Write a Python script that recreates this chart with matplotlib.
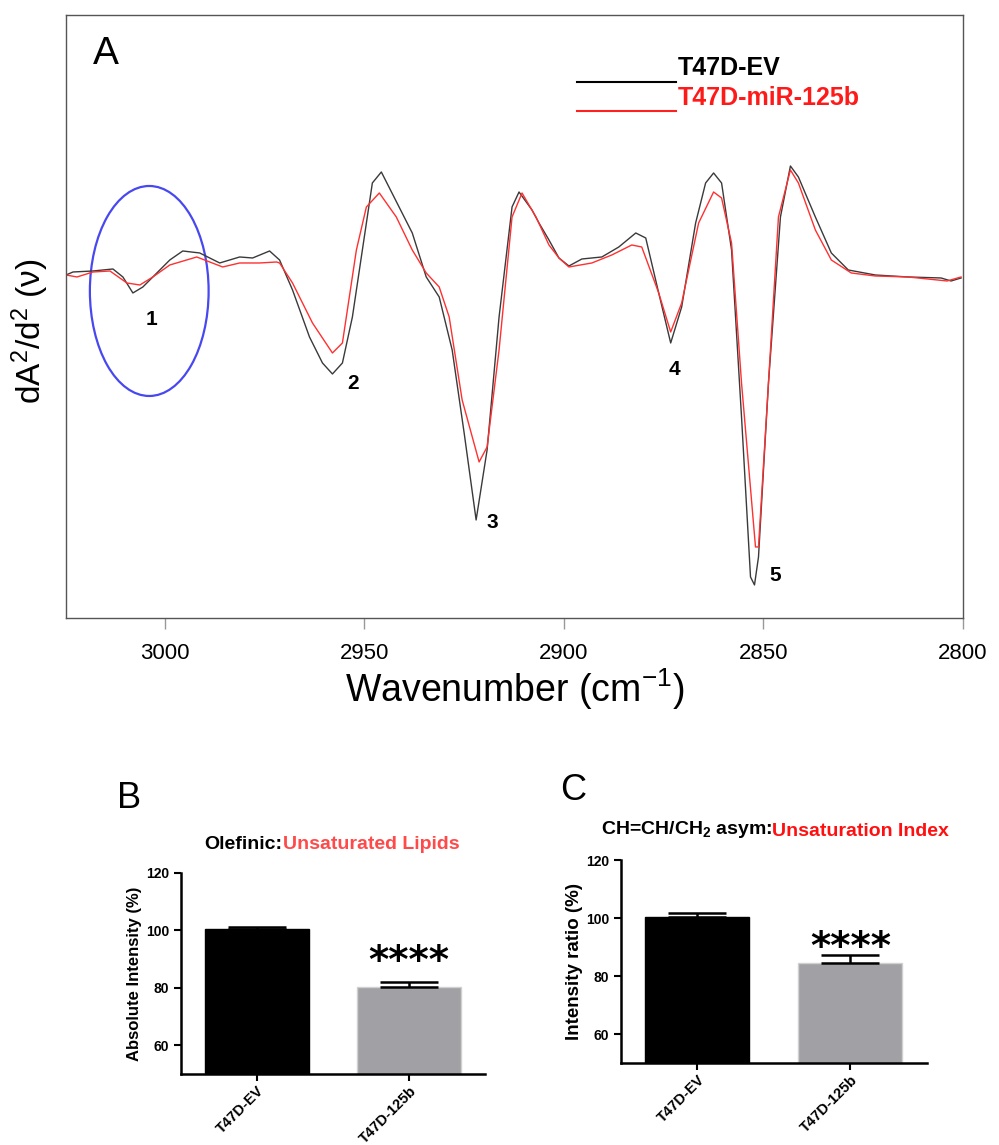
import matplotlib
matplotlib.use("Agg")
import matplotlib.pyplot as plt
from matplotlib.patches import Ellipse
from matplotlib.lines import Line2D

plt.rcParams['font.family'] = ['Liberation Sans', 'DejaVu Sans']
plt.rcParams['mathtext.fontset'] = 'custom'
plt.rcParams['mathtext.rm'] = 'Liberation Sans'
plt.rcParams['mathtext.it'] = 'Liberation Sans:italic'
plt.rcParams['mathtext.bf'] = 'Liberation Sans:bold'

W, H = 999, 1145

# --- panel A: second derivative spectra (arbitrary units) ---
wn_ev = [3024.75, 3023.0, 3018.0, 3013.0, 3010.5, 3008.0, 3005.5, 3002.0, 2998.75, 2995.5,
         2991.25, 2986.25, 2981.25, 2978.0, 2973.75, 2971.25, 2968.0, 2963.75, 2960.5, 2958.0,
         2955.5, 2953.0, 2950.5, 2948.0, 2945.75, 2938.0, 2934.5, 2931.25, 2928.0, 2925.0,
         2922.0, 2919.25, 2916.25, 2913.0, 2911.25, 2908.0, 2906.25, 2903.75, 2901.25, 2898.75,
         2895.5, 2890.5, 2886.25, 2882.0, 2879.5, 2876.25, 2873.25, 2870.5, 2867.0, 2864.5,
         2862.5, 2860.5, 2858.0, 2855.5, 2853.25, 2852.25, 2851.25, 2848.75, 2845.75, 2843.25,
         2841.25, 2837.0, 2833.0, 2828.75, 2822.0, 2813.75, 2805.5, 2803.0, 2800.5]
y_ev = [-0.02, 0.01, 0.02, 0.04, -0.04, -0.20, -0.14, 0.00, 0.13, 0.22,
        0.20, 0.10, 0.16, 0.15, 0.22, 0.13, -0.17, -0.64, -0.90, -1.01,
        -0.90, -0.44, 0.23, 0.90, 1.01, 0.40, -0.04, -0.24, -0.77, -1.60,
        -2.47, -1.77, -0.44, 0.66, 0.81, 0.63, 0.50, 0.33, 0.15, 0.07,
        0.14, 0.16, 0.26, 0.40, 0.35, -0.20, -0.70, -0.34, 0.50, 0.90,
        1.00, 0.90, 0.23, -1.44, -3.04, -3.12, -2.84, -1.10, 0.56, 1.07,
        0.96, 0.56, 0.20, 0.03, -0.02, -0.04, -0.05, -0.08, -0.05]

wn_mir = [3024.75, 3022.0, 3018.0, 3013.75, 3009.5, 3006.25, 3003.0, 2998.75, 2992.0, 2988.75,
          2985.5, 2981.25, 2976.25, 2972.0, 2971.25, 2968.0, 2963.0, 2958.0, 2955.5, 2952.0,
          2949.5, 2946.25, 2942.0, 2938.0, 2934.5, 2931.25, 2928.75, 2925.5, 2921.25, 2919.25,
          2916.25, 2913.0, 2910.5, 2907.0, 2903.75, 2901.25, 2898.75, 2893.0, 2888.0, 2883.0,
          2880.5, 2876.25, 2873.25, 2870.5, 2866.25, 2862.5, 2860.5, 2858.0, 2855.5, 2852.0,
          2851.25, 2848.75, 2846.25, 2843.25, 2841.25, 2837.0, 2833.0, 2828.0, 2822.0, 2813.75,
          2804.0, 2800.5]
y_mir = [-0.02, -0.04, 0.01, 0.02, -0.10, -0.12, -0.04, 0.08, 0.16, 0.11,
         0.06, 0.10, 0.10, 0.11, 0.10, -0.10, -0.50, -0.80, -0.70, 0.23,
         0.66, 0.80, 0.56, 0.23, 0.00, -0.14, -0.44, -1.27, -1.89, -1.74,
         -0.77, 0.56, 0.80, 0.56, 0.28, 0.15, 0.06, 0.10, 0.18, 0.28,
         0.26, -0.20, -0.59, -0.30, 0.50, 0.81, 0.75, 0.30, -1.10, -2.74,
         -2.74, -1.10, 0.56, 1.03, 0.90, 0.43, 0.13, 0.00, -0.03, -0.04,
         -0.08, -0.04]

band_labels = ['1', '2', '3', '4', '5']
band_wn = [3003.25, 2952.75, 2918.0, 2872.25, 2847.0]
band_y = [-0.47, -1.11, -2.50, -0.97, -3.03]

# --- panels B, C ---
groups = ['T47D-EV', 'T47D-125b']
olefinic = [100.4, 80.4]
olefinic_err = [0.8, 1.7]
unsat_index = [100.4, 84.4]
unsat_err = [1.3, 2.8]

fig = plt.figure(figsize=(W / 100, H / 100), dpi=100)

ax = fig.add_axes([0.0661, 0.4603, 0.8979, 0.5266])
ax.plot(wn_ev, y_ev, color='#3a3a3a', lw=1.0)
ax.plot(wn_mir, y_mir, color='#ff3030', lw=1.0)
ax.set_xlim(3024.75, 2800)
ax.set_ylim(-3.45, 2.58)
ax.set_xticks([3000, 2950, 2900, 2850, 2800])
ax.set_yticks([])
for s in ax.spines.values():
    s.set_color('#555555')
    s.set_linewidth(1.0)
ax.tick_params(axis='x', direction='out', length=8, width=1, color='#999999',
               labelsize=16, pad=10)
ax.set_xlabel('Wavenumber (cm$^{-1}$)', fontsize=27, labelpad=2)
ax.add_patch(Ellipse((3003.9, -0.18), 29.75, 2.10, fill=False, ec='#4848f0', lw=1.6))
for lab, xx, yy in zip(band_labels, band_wn, band_y):
    ax.text(xx, yy, lab, fontsize=15, fontweight='bold', ha='center', va='center')
ax.text(0.03, 0.935, 'A', transform=ax.transAxes, fontsize=28, va='center')

# legend drawn as underline style
fig.add_artist(Line2D([577 / W, 676 / W], [1 - 82 / H] * 2, color='black', lw=1.5))
fig.add_artist(Line2D([577 / W, 676 / W], [1 - 111 / H] * 2, color='#ff2020', lw=1.5))
fig.text(678 / W, 1 - 68 / H, 'T47D-EV', fontsize=18, fontweight='bold', va='center')
fig.text(678 / W, 1 - 98 / H, 'T47D-miR-125b', fontsize=18, fontweight='bold',
         va='center', color='#ff1a1a')

fig.text(30 / W, 1 - 331 / H, 'dA$^{2}$/d$^{2}$ (ν)', fontsize=24, rotation=90,
         ha='center', va='center')


def bar_panel(rect, vals, errs, ylabel, ysize, star_y, letter, letter_pos,
              t1, t2, t2_color, title_pos):
    bx = fig.add_axes(rect)
    xs = [0, 1]
    bx.bar(xs, vals, width=0.68, color=['black', '#a1a1a5'],
           edgecolor=['black', '#d0d0d0'], linewidth=1, zorder=2)
    bx.errorbar(xs, vals, yerr=[[0, 0], errs], fmt='none', ecolor='black',
                elinewidth=1.8, capsize=21, capthick=1.8, zorder=3)
    bx.set_xlim(-0.5, 1.5)
    bx.set_ylim(50, 120)
    bx.set_yticks([60, 80, 100, 120])
    bx.set_xticks(xs)
    bx.set_xticklabels(groups, rotation=45, ha='right', rotation_mode='anchor',
                       fontsize=10.5, fontweight='bold')
    for lbl in bx.get_yticklabels():
        lbl.set_fontweight('bold')
    bx.tick_params(axis='y', labelsize=10, length=5, width=1.5)
    bx.tick_params(axis='x', length=5, width=1.5, pad=2)
    for side in ['top', 'right']:
        bx.spines[side].set_visible(False)
    for side in ['left', 'bottom']:
        bx.spines[side].set_linewidth(1.8)
    bx.set_ylabel(ylabel, fontsize=ysize, fontweight='bold', va='center')
    bx.yaxis.set_label_coords(-0.153, 0.5)
    bx.text(1, star_y, '****', fontsize=28, fontweight='bold', family='DejaVu Sans',
            ha='center', va='center')
    fig.text(letter_pos[0] / W, 1 - letter_pos[1] / H, letter, fontsize=26,
             va='center', ha='left')
    tt = fig.text(0.5, 1 - title_pos[1] / H, t1, fontsize=14,
                  fontweight='bold', ha='right', va='baseline')
    an = bx.annotate(t2, xy=(1, 0), xycoords=tt, fontsize=14, fontweight='bold',
                     color=t2_color, va='bottom', ha='left')
    return tt, an, title_pos[0]


titles = []
titles.append(bar_panel([0.1812, 0.0620, 0.3043, 0.1756], olefinic, olefinic_err,
                        'Absolute Intensity (%)', 12, 88.9, 'B', (117, 799),
                        'Olefinic:', 'Unsaturated Lipids', '#ff4a4a', (332, 849)))
titles.append(bar_panel([0.6216, 0.0716, 0.3063, 0.1773], unsat_index, unsat_err,
                        'Intensity ratio (%)', 13.5, 89.6, 'C', (560, 790),
                        'CH=CH/CH$_{\\mathbf{2}}$ asym:', 'Unsaturation Index', '#ff1010',
                        (775, 834)))

# centre each two-colour title on the reference position
fig.canvas.draw()
r = fig.canvas.get_renderer()
for tt, an, cx in titles:
    w1 = tt.get_window_extent(r).width
    w2 = an.get_window_extent(r).width
    tt.set_x((cx - (w1 + w2) / 2 + w1) / W)

fig.savefig('out.png', dpi=100)
